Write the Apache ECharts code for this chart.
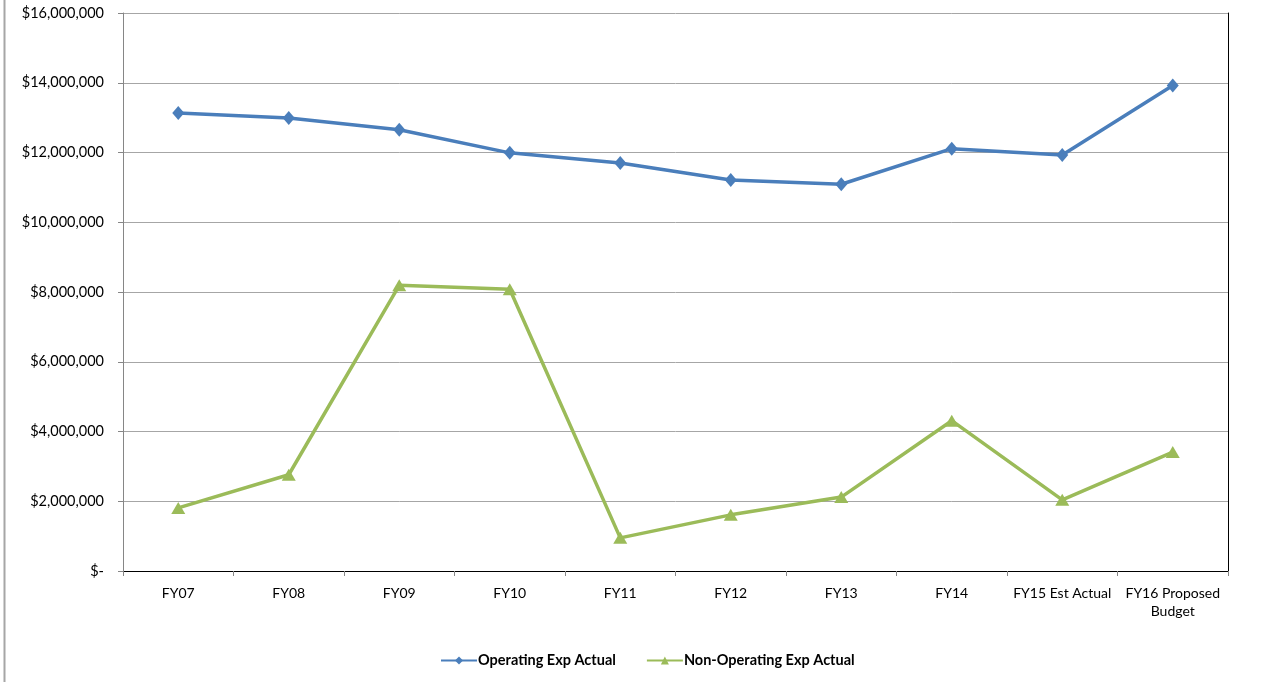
<!DOCTYPE html>
<html>
<head>
<meta charset="utf-8">
<script src="https://cdn.jsdelivr.net/npm/echarts@6/dist/echarts.min.js"></script>
<style>
  html, body { margin: 0; padding: 0; background: #fff; }
  #chart { width: 1269px; height: 682px; }
</style>
</head>
<body>
<div id="chart"></div>
<script>
// Fiscal years shown along the x axis
const categories = ['FY07', 'FY08', 'FY09', 'FY10', 'FY11', 'FY12', 'FY13', 'FY14', 'FY15 Est Actual', 'FY16 Proposed\nBudget'];

// Operating expenses, actual (dollars)
const operatingExp = [13130000, 12990000, 12650000, 11990000, 11700000, 11210000, 11090000, 12110000, 11930000, 13920000];

// Non-operating expenses, actual (dollars)
const nonOperatingExp = [1810000, 2760000, 8190000, 8080000, 950000, 1610000, 2120000, 4310000, 2040000, 3410000];

// Value axis range
const yMin = 0;
const yMax = 16000000;
const yStep = 2000000;

const FONT = 'Lato, "Liberation Sans", sans-serif';

function money(v) {
  if (v === 0) return '$-';
  return '$' + v.toLocaleString('en-US');
}

const chart = echarts.init(document.getElementById('chart'), null, { renderer: 'canvas' });

chart.setOption({
  animation: false,
  backgroundColor: '#ffffff',
  textStyle: { fontFamily: FONT },
  grid: { left: 123, right: 41, top: 13, bottom: 111, containLabel: false },
  graphic: [
    {
      type: 'line',
      shape: { x1: 4.5, y1: 0, x2: 4.5, y2: 682 },
      style: { stroke: '#a6a6a6', lineWidth: 2 }
    }
  ],
  legend: {
    bottom: 9,
    left: 435,
    itemWidth: 36,
    itemHeight: 10,
    itemGap: 30,
    textStyle: { fontFamily: FONT, fontSize: 14.5, fontWeight: 'bold', color: '#000', padding: [0, 0, 0, -4] },
    data: ['Operating Exp Actual', 'Non-Operating Exp Actual']
  },
  xAxis: [
    {
      type: 'category',
      data: categories,
      boundaryGap: true,
      axisLine: { show: true, lineStyle: { color: '#868686', width: 1 } },
      axisTick: { show: true, inside: false, length: 5, lineStyle: { color: '#868686' } },
      axisLabel: {
        margin: 13,
        interval: 0,
        color: '#000',
        fontFamily: FONT,
        fontSize: 14,
        lineHeight: 18,
        align: 'center'
      },
      splitLine: { show: false }
    },
    {
      type: 'category',
      data: categories,
      position: 'top',
      axisLine: { show: true, lineStyle: { color: '#000', width: 1 } },
      axisTick: { show: false },
      axisLabel: { show: false },
      splitLine: { show: false }
    }
  ],
  yAxis: [
    {
      type: 'value',
      min: yMin,
      max: yMax,
      interval: yStep,
      axisLine: { show: true, lineStyle: { color: '#868686', width: 1 } },
      axisTick: { show: true, length: 5, lineStyle: { color: '#868686' } },
      axisLabel: {
        margin: 19,
        color: '#000',
        fontFamily: FONT,
        fontSize: 14.5,
        formatter: money
      },
      splitLine: { show: true, lineStyle: { color: '#a6a6a6', width: 1 } }
    },
    {
      type: 'value',
      min: yMin,
      max: yMax,
      interval: yStep,
      position: 'right',
      axisLine: { show: true, lineStyle: { color: '#000', width: 1 } },
      axisTick: { show: false },
      axisLabel: { show: false },
      splitLine: { show: false }
    }
  ],
  series: [
    {
      name: 'Operating Exp Actual',
      type: 'line',
      data: operatingExp,
      symbol: 'diamond',
      symbolSize: [12, 14],
      showAllSymbol: true,
      color: '#4a7ebb',
      lineStyle: { color: '#4a7ebb', width: 3.5 },
      itemStyle: { color: '#4a7ebb' },
      z: 3
    },
    {
      name: 'Non-Operating Exp Actual',
      type: 'line',
      data: nonOperatingExp,
      symbol: 'triangle',
      symbolSize: [14, 12],
      showAllSymbol: true,
      color: '#9bbb59',
      lineStyle: { color: '#9bbb59', width: 3.5 },
      itemStyle: { color: '#9bbb59' },
      z: 3
    }
  ]
});
</script>
</body>
</html>
